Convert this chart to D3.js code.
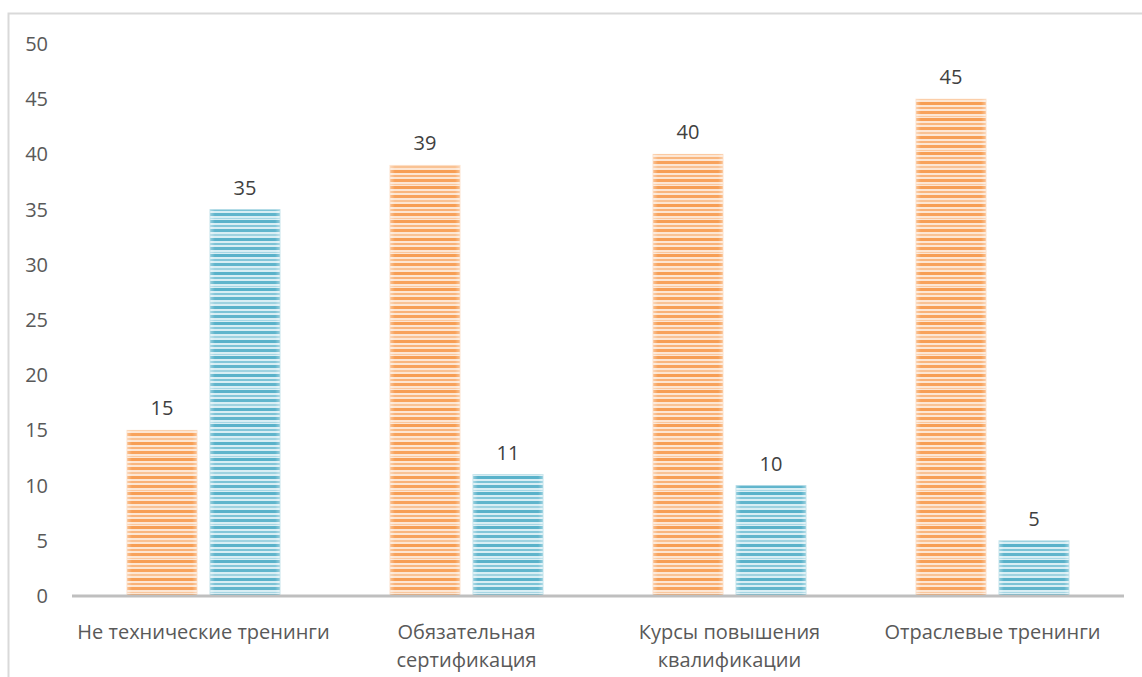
<!DOCTYPE html>
<html>
<head>
<meta charset="utf-8">
<script src="https://cdn.jsdelivr.net/npm/d3@7"></script>
<style>
  html, body { margin: 0; padding: 0; background: #fff; }
  svg { display: block; }
  text { font-family: "Open Sans", "DejaVu Sans", sans-serif; }
</style>
</head>
<body>
<svg id="chart" width="1142" height="677"></svg>
<script>
// Categories and the two series (percent values)
const categories = [
  ["Не технические тренинги"],
  ["Обязательная", "сертификация"],
  ["Курсы повышения", "квалификации"],
  ["Отраслевые тренинги"]
];
const seriesA = [15, 39, 40, 45];
const seriesB = [35, 11, 10, 5];
const yTicks = [0, 5, 10, 15, 20, 25, 30, 35, 40, 45, 50];

const svg = d3.select("#chart");
const W = 1142, H = 677;
const plot = { left: 72, right: 1124, top: 44, bottom: 596 };
const FONT = "20px";

// Chart frame (runs off the right and bottom edges)
svg.append("rect")
  .attr("x", 8.5).attr("y", 13.5)
  .attr("width", W + 20).attr("height", H + 20)
  .attr("fill", "#fff").attr("stroke", "#d9d9d9").attr("stroke-width", 2);

// Striped fills
const defs = svg.append("defs");
function stripes(id, base, dark, mid) {
  const h = 34;
  const p = defs.append("pattern")
    .attr("id", id).attr("patternUnits", "userSpaceOnUse")
    .attr("width", 10).attr("height", h);
  p.append("rect").attr("width", 10).attr("height", h).attr("fill", base);
  const rows = [
    [0, 3, dark, 0.9], [5, 2, dark, 0.65], [9, 3, dark, 0.85],
    [14, 1, mid, 0.6], [16, 3, dark, 0.9], [21, 2, dark, 0.6],
    [25, 3, dark, 0.85], [30, 2, mid, 0.7]
  ];
  rows.forEach(([y, hh, c, o]) => {
    p.append("rect").attr("x", 0).attr("y", y).attr("width", 10)
      .attr("height", hh).attr("fill", c).attr("opacity", o);
  });
  // soft lighter edges at left/right of each bar
  const g = defs.append("linearGradient").attr("id", id + "-edge")
    .attr("x1", "0").attr("x2", "1").attr("y1", "0").attr("y2", "0");
  g.append("stop").attr("offset", "0").attr("stop-color", "#fff").attr("stop-opacity", 0.35);
  g.append("stop").attr("offset", "0.07").attr("stop-color", "#fff").attr("stop-opacity", 0);
  g.append("stop").attr("offset", "0.93").attr("stop-color", "#fff").attr("stop-opacity", 0);
  g.append("stop").attr("offset", "1").attr("stop-color", "#fff").attr("stop-opacity", 0.35);
}
stripes("stripeA", "#fde6d3", "#f79646", "#f9b27a");
stripes("stripeB", "#d8eef4", "#4bacc6", "#86c6d8");

// Scales
const x0 = d3.scaleBand().domain(d3.range(categories.length))
  .range([plot.left, plot.right]).paddingInner(0).paddingOuter(0);
const x1 = d3.scaleBand().domain([0, 1])
  .range([55, 208]).paddingInner(13 / 83).paddingOuter(0);
const y = d3.scaleLinear().domain([0, 50]).range([plot.bottom, plot.top]);

// Y axis labels (no axis line, no gridlines)
const yAxis = d3.axisLeft(y).tickValues(yTicks).tickSize(0).tickPadding(0);
const ya = svg.append("g").attr("transform", "translate(48,0)").call(yAxis);
ya.select(".domain").remove();
ya.selectAll("text")
  .attr("fill", "#595959").style("font-size", FONT)
  .style("font-family", "'Open Sans', sans-serif");

// Bars
const series = [seriesA, seriesB];
const edges = ["#fbd0aa", "#9fd2e0"];
const ids = ["stripeA", "stripeB"];
const groups = svg.append("g").selectAll("g")
  .data(categories).join("g")
  .attr("transform", (d, i) => `translate(${x0(i)},0)`);

series.forEach((vals, s) => {
  groups.append("rect")
    .attr("x", x1(s)).attr("width", x1.bandwidth())
    .attr("y", (d, i) => y(vals[i]))
    .attr("height", (d, i) => y(0) - y(vals[i]))
    .attr("fill", `url(#${ids[s]})`)
    .attr("stroke", edges[s]).attr("stroke-width", 1).attr("stroke-opacity", 0.6);
  groups.append("rect")
    .attr("x", x1(s)).attr("width", x1.bandwidth())
    .attr("y", (d, i) => y(vals[i]))
    .attr("height", (d, i) => y(0) - y(vals[i]))
    .attr("fill", `url(#${ids[s]}-edge)`);
  groups.append("text")
    .attr("x", x1(s) + x1.bandwidth() / 2)
    .attr("y", (d, i) => y(vals[i]) - 15)
    .attr("text-anchor", "middle")
    .attr("fill", "#404040").style("font-size", FONT)
    .text((d, i) => vals[i]);
});

// X axis baseline
const xAxis = d3.axisBottom(x0).tickSize(0).tickFormat("");
const xa = svg.append("g").attr("transform", `translate(0,${plot.bottom})`).call(xAxis);
xa.select(".domain").attr("stroke", "#bfbfbf").attr("stroke-width", 3)
  .attr("d", `M${plot.left},0H${plot.right}`);

// Category labels
groups.append("text")
  .attr("x", x0.bandwidth() / 2)
  .attr("y", 639)
  .attr("text-anchor", "middle")
  .attr("fill", "#595959").style("font-size", FONT)
  .each(function (d) {
    d.forEach((line, k) => {
      d3.select(this).append("tspan")
        .attr("x", x0.bandwidth() / 2).attr("dy", k === 0 ? 0 : 28)
        .text(line);
    });
  });
</script>
</body>
</html>
